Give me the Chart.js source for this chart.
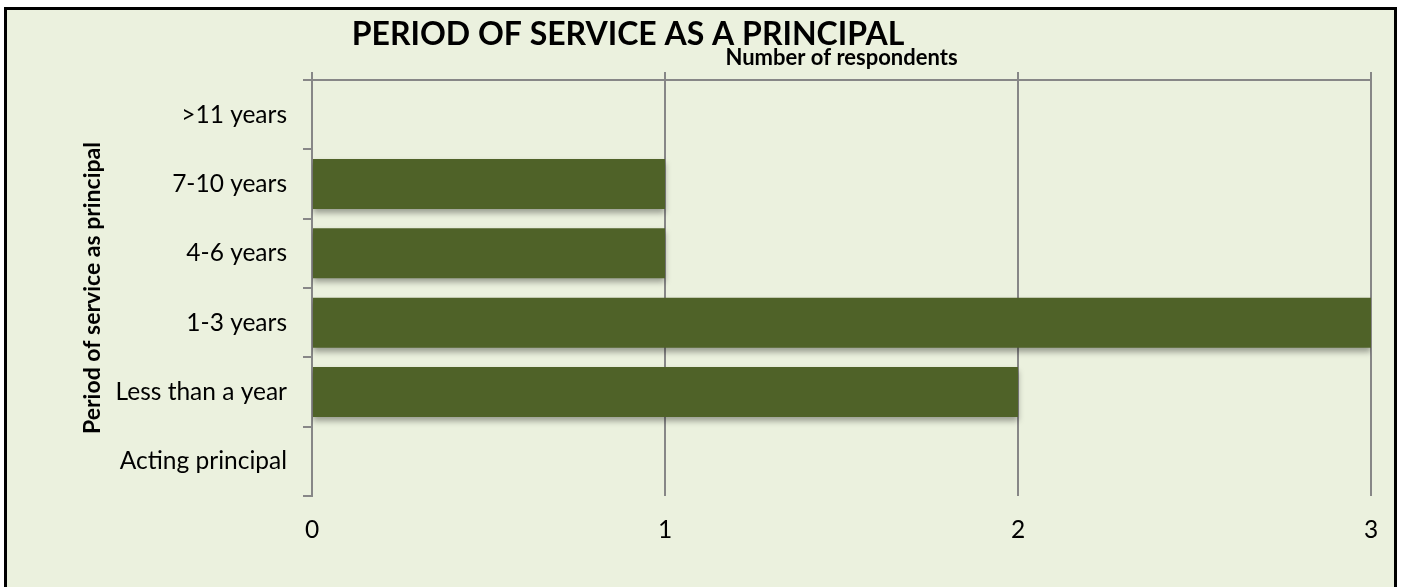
<!DOCTYPE html>
<html>
<head>
<meta charset="utf-8">
<script src="https://cdn.jsdelivr.net/npm/chart.js@4"></script>
<style>
  html, body { margin: 0; padding: 0; background: #ffffff; }
  body { width: 1402px; height: 587px; position: relative; overflow: hidden; }
  #frame {
    position: absolute; left: 4px; top: 7px; width: 1393px; height: 600px;
    box-sizing: border-box; border: 3px solid #000; background: #EBF1DE;
  }
  #wrap { position: absolute; left: 0; top: 0; width: 1402px; height: 587px; }
</style>
</head>
<body>
<div id="frame"></div>
<div id="wrap"><canvas id="chart" width="1402" height="587"></canvas></div>
<script>
const chartTitle = 'PERIOD OF SERVICE AS A PRINCIPAL';
const xTitle = 'Number of respondents';
const yTitle = 'Period of service as principal';
const categories = ['>11 years', '7-10 years', '4-6 years', '1-3 years', 'Less than a year', 'Acting principal'];
const respondents = [0, 1, 1, 3, 2, 0];
const xTicks = [0, 1, 2, 3];

const FONT = "Lato, 'Open Sans', sans-serif";
const GRID = '#878787';

// main title drawn on top, bar shadow like the office chart
const extras = {
  id: 'extras',
  beforeDatasetsDraw(chart) {
    const ctx = chart.ctx;
    ctx.save();
    ctx.shadowColor = 'rgba(0,0,0,0.35)';
    ctx.shadowBlur = 6;
    ctx.shadowOffsetY = 4;
  },
  afterDatasetsDraw(chart) {
    chart.ctx.restore();
  },
  afterDraw(chart) {
    const ctx = chart.ctx;
    ctx.save();
    ctx.font = 'bold 32px ' + FONT;
    ctx.fillStyle = '#000';
    ctx.textAlign = 'center';
    ctx.textBaseline = 'middle';
    ctx.fillText(chartTitle, 628, 35);
    ctx.restore();
  }
};

new Chart(document.getElementById('chart'), {
  type: 'bar',
  data: {
    labels: categories,
    datasets: [{
      data: respondents,
      backgroundColor: '#4F6228',
      borderWidth: 0,
      categoryPercentage: 1,
      barPercentage: 0.72
    }]
  },
  plugins: [extras],
  options: {
    indexAxis: 'y',
    responsive: false,
    animation: false,
    layout: { padding: { left: 0, right: 31, top: 0, bottom: 0 } },
    plugins: { legend: { display: false }, tooltip: { enabled: false } },
    scales: {
      y: {
        position: 'left',
        grid: { display: true, drawOnChartArea: false, drawTicks: true, tickLength: 9, color: GRID, lineWidth: 2, offset: true },
        border: { display: true, color: GRID, width: 2 },
        ticks: { color: '#000', padding: 16, font: { family: FONT, size: 24.5 } },
        title: { display: true, text: yTitle, color: '#000', padding: { top: 79, bottom: 0 }, font: { family: FONT, size: 23, weight: 'bold' } },
        afterFit(scale) { scale.width = 312; }
      },
      x: {
        position: 'bottom',
        min: 0, max: 3,
        afterBuildTicks(scale) { scale.ticks = xTicks.map(v => ({ value: v })); },
        grid: { display: true, drawOnChartArea: true, drawTicks: false, color: GRID, lineWidth: 2 },
        border: { display: false },
        ticks: { color: '#000', padding: 19, font: { family: FONT, size: 24.5 } },
        afterFit(scale) { scale.height = 91; }
      },
      x2: {
        position: 'top',
        min: 0, max: 3,
        afterBuildTicks(scale) { scale.ticks = xTicks.map(v => ({ value: v })); },
        grid: { display: true, drawOnChartArea: false, drawTicks: true, tickLength: 8, color: GRID, lineWidth: 2 },
        border: { display: true, color: GRID, width: 2 },
        ticks: { display: false },
        title: { display: true, text: xTitle, color: '#000', padding: { top: 45, bottom: 0 }, font: { family: FONT, size: 22, weight: 'bold' } },
        afterFit(scale) { scale.height = 80; }
      }
    }
  }
});
</script>
</body>
</html>
